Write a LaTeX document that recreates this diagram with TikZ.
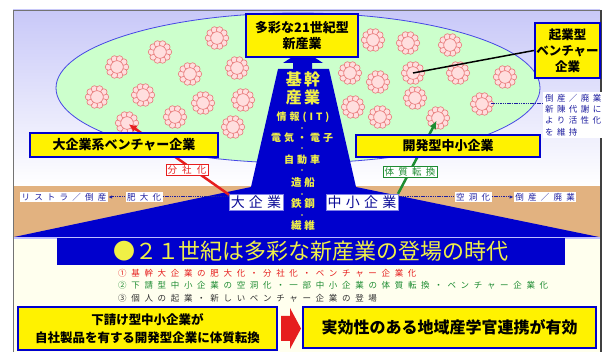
\documentclass[tikz,border=0pt]{standalone}
\usepackage{fontspec}
\setmainfont{Noto Sans CJK JP}
\usepackage{tikz}
\usetikzlibrary{arrows.meta}

\definecolor{deepblue}{RGB}{0,0,205}
\definecolor{lav}{RGB}{200,200,248}
\definecolor{tanband}{RGB}{226,178,128}
\definecolor{cream}{RGB}{255,255,238}
\definecolor{meadow}{RGB}{204,255,204}
\definecolor{rim}{RGB}{70,70,230}
\definecolor{petalred}{RGB}{232,120,120}
\definecolor{petalpink}{RGB}{255,222,222}
\definecolor{roadyellow}{RGB}{240,240,70}
\definecolor{tagblue}{RGB}{30,30,160}
\definecolor{firmblue}{RGB}{10,10,150}
\definecolor{splitred}{RGB}{230,30,30}
\definecolor{shiftgreen}{RGB}{30,140,50}
\definecolor{stepgray}{RGB}{50,50,50}

\pgfdeclarelayer{back}
\pgfdeclarelayer{mid}
\pgfsetlayers{back,mid,main}

\tikzset{
  yellowbox/.style={draw=deepblue, line width=2.2pt, fill=yellow, inner sep=0pt, align=center,
    font=\bfseries\fontsize{13}{15.5}\selectfont},
  tag/.style={fill=white, inner sep=1.5pt, text=tagblue,
    font=\fontsize{8.5}{10}\selectfont\addfontfeature{LetterSpace=50}},
  firm/.style={fill=white, draw=deepblue!50, inner sep=1.5pt, text=firmblue,
    font=\fontsize{14}{16}\selectfont\addfontfeature{LetterSpace=30}},
  roadtext/.style={text=roadyellow, inner sep=0pt,
    font=\bfseries\fontsize{10}{12}\selectfont\addfontfeature{LetterSpace=30}},
  steptext/.style={anchor=west, inner sep=0pt,
    font=\fontsize{8.5}{10}\selectfont\addfontfeature{LetterSpace=55}},
  leader/.style={draw=tagblue, line width=1pt, dash pattern=on 1.5pt off 0.8pt},
  petal/.style={draw=petalred, fill=petalpink, line width=0.6pt},
  flower/.pic={
    \foreach \a in {0,36,...,324}
      \draw[petal] (\a:8.5) circle (3.2pt);
    \draw[petal] (0,0) circle (6.3pt);
  },
}

\begin{document}
\begin{tikzpicture}[x=1pt, y=-1pt]
\useasboundingbox (0,0) rectangle (606,352);

% flower centres
\foreach \fx/\fy [count=\i] in {217/38,160/52,117/67,190/74,237/68,97/97,
    143/95,203/103,243/100,175/117,127/123,233/127,
    373/40,408/43,450/45,350/73,378/82,413/73,458/73,505/77,
    353/107,380/117,415/98,438/118,482/104}
  \coordinate (f\i) at (\fx,\fy);

% ground, sky and field
\begin{pgfonlayer}{back}
\fill[top color=lav, bottom color=white] (13,10) rectangle (600,186);
\fill[tanband] (13,186) rectangle (600,237);
\fill[cream] (13,239) rectangle (600,352);
\draw[blue!25, line width=1.5pt] (13,238) -- (600,238);
\draw[rim, fill=meadow, line width=0.8pt] (298,88) ellipse [x radius=242pt, y radius=75pt];

% flowers
\foreach \i in {1,...,25}
  \pic at (f\i) {flower};

% the road up to the new industries
\fill[deepblue] (14,237) -- (251,187) -- (278,69) -- (329,69) -- (356,187) -- (599,237) -- cycle;
\fill[deepblue] (293,70) -- (293,63) -- (283,63) -- (303,50) -- (323,63) -- (312,63) -- (312,70) -- cycle;
\foreach \y in {128,148,170,194,215}
  \fill[roadyellow] (302,\y) circle (0.8pt);
\end{pgfonlayer}

% frame
\draw[black!55, line width=0.8pt] (13,10) rectangle (600,360);
\draw[black!75, line width=1.5pt] (601,10) -- (601,352);

% road labels
\node[roadtext, font=\bfseries\fontsize{16}{18}\selectfont\addfontfeature{LetterSpace=15}] (kikan) at (303,79) {基幹};
\node[roadtext, font=\bfseries\fontsize{16}{18}\selectfont\addfontfeature{LetterSpace=15}] (sangyo) at (303,97) {産業};
\node[roadtext] (info) at (303,117) {情報(IT)};
\node[roadtext] (elec) at (302,138) {電気・電子};
\node[roadtext] (auto) at (302,160) {自動車};
\node[roadtext, font=\bfseries\fontsize{10.5}{12}\selectfont\addfontfeature{LetterSpace=25}] (ship) at (303,183) {造船};
\node[roadtext, font=\bfseries\fontsize{10.5}{12}\selectfont\addfontfeature{LetterSpace=25}] (steel) at (303,204) {鉄鋼};
\node[roadtext, font=\bfseries\fontsize{10.5}{12}\selectfont\addfontfeature{LetterSpace=25}] (fiber) at (303,226) {繊維};

% headline boxes
\node[yellowbox, minimum width=112, minimum height=43] (newind) at (302,35.5) {多彩な21世紀型\\新産業};
\node[yellowbox, minimum width=188, minimum height=24] (groupvc) at (124,145) {大企業系ベンチャー企業};
\node[yellowbox, minimum width=184, minimum height=22] (devsme) at (448,146) {開発型中小企業};
\node[yellowbox, minimum width=65, minimum height=55, font=\bfseries\fontsize{12.5}{16}\selectfont] (startup) at (567.5,50.5) {起業型\\ベンチャー\\企業};

% firms at the foot of the road
\node[firm] (bigco) at (256,202) {大企業};
\node[firm] (smallco) at (362,202) {中小企業};

% side tags
\node[tag] (bloat) at (144,197) {肥大化};
\node[tag] (restructure) at (64,197) {リストラ／倒産};
\node[tag] (hollow) at (473,197) {空洞化};
\node[tag] (closure) at (545,197) {倒産／廃業};
\node[tag, anchor=north west, align=left, inner sep=2pt,
  font=\fontsize{8.5}{11.3}\selectfont\addfontfeature{LetterSpace=40}] (renewal) at (543,92) {倒産／廃業\\新陳代謝に\\より活性化\\を維持};
\node[tag, draw=splitred, text=splitred, line width=0.8pt,
  font=\fontsize{9.5}{11}\selectfont\addfontfeature{LetterSpace=55}] (spinoff) at (187,170) {分社化};
\node[tag, draw=shiftgreen, text=shiftgreen, line width=0.8pt,
  font=\fontsize{9.5}{11}\selectfont\addfontfeature{LetterSpace=45}] (convert) at (410,172) {体質転換};

% connectors
\begin{pgfonlayer}{mid}
\draw[leader] (bloat.east) -- (bloat.east -| bigco.west);
\draw[leader, -{Latex[length=4pt,width=3.5pt]}] (bloat.west) -- (restructure.east);
\draw[leader] (smallco.east |- hollow) -- (hollow.west);
\draw[leader, -{Latex[length=4pt,width=3.5pt]}] (hollow.east) -- (closure.west);
\draw[leader, shorten <=9pt] (f25) -- (f25 -| renewal.west);
\draw[splitred, line width=2.5pt, -{Latex[length=8pt,width=7pt]}, shorten >=2pt] (bigco.165) -- (f11);
\draw[shiftgreen, line width=2.5pt, -{Latex[length=8pt,width=7pt]}, shorten >=3pt] (smallco.north east) -- (f24);
\draw[black, line width=1.5pt] (startup.west) -- (f18);
\end{pgfonlayer}

% lower panel
\node[fill=deepblue, minimum width=508, minimum height=27, inner sep=0pt, text=roadyellow,
  font=\fontsize{22}{24}\selectfont] (era) at (311,251.5) {●２１世紀は多彩な新産業の登場の時代};
\node[steptext, text=splitred] (step1) at (118,273) {①基幹大企業の肥大化・分社化・ベンチャー企業化};
\node[steptext, text=shiftgreen] (step2) at (118,285.5) {②下請型中小企業の空洞化・一部中小企業の体質転換・ベンチャー企業化};
\node[steptext, text=stepgray] (step3) at (118,298) {③個人の起業・新しいベンチャー企業の登場};

\node[yellowbox, minimum width=259, minimum height=43, font=\bfseries\fontsize{12.5}{18}\selectfont] (shift) at (147.5,328.5) {下請け型中小企業が\\自社製品を有する開発型企業に体質転換};
\node[yellowbox, minimum width=293, minimum height=41, font=\bfseries\fontsize{16}{18}\selectfont] (link) at (449.5,327.5) {実効性のある地域産学官連携が有効};
\fill[splitred] (281,316) -- (290,316) -- (290,308) -- (301,328.5) -- (290,349) -- (290,341) -- (281,341) -- cycle;

\end{tikzpicture}
\end{document}
